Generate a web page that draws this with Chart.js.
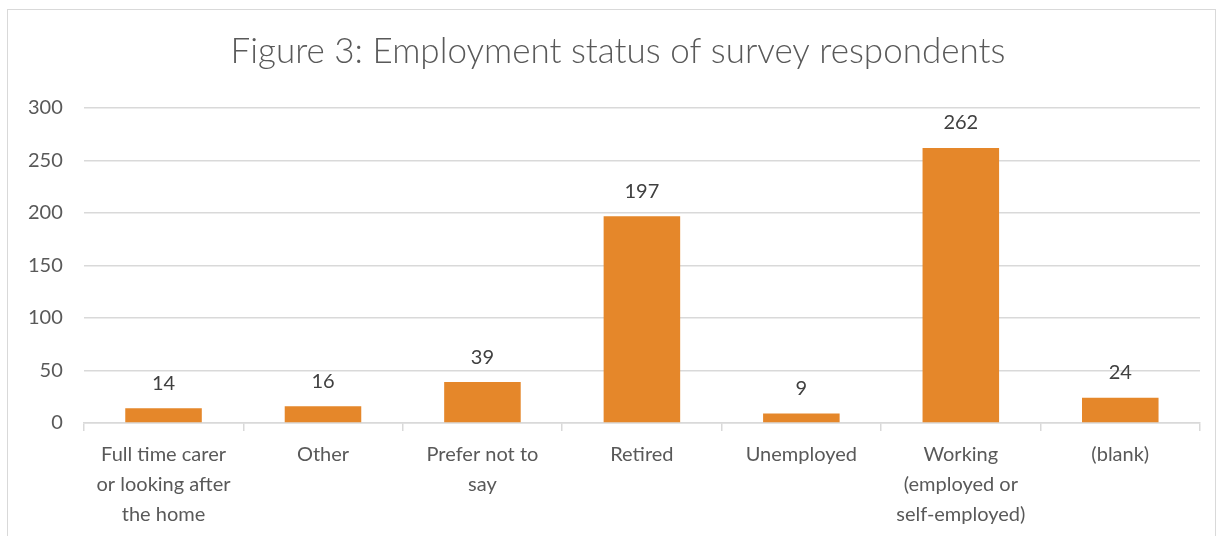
<!DOCTYPE html>
<html>
<head>
<meta charset="utf-8">
<script src="https://cdn.jsdelivr.net/npm/chart.js@4/dist/chart.umd.min.js"></script>
<style>
  html, body { margin: 0; padding: 0; background: #fff; overflow: hidden; }
  #frame {
    position: absolute; left: 7px; top: 9px; width: 1209px; height: 540px;
    border: 1.5px solid #d9d9d9; box-sizing: border-box;
  }
  #wrap { position: absolute; left: 0; top: 0; width: 1218px; height: 539px; }
</style>
</head>
<body>
<div id="frame"></div>
<div id="wrap"><canvas id="employmentChart"></canvas></div>
<script>
// Data
const categories = [
  ['Full time carer', 'or looking after', 'the home'],
  ['Other'],
  ['Prefer not to', 'say'],
  ['Retired'],
  ['Unemployed'],
  ['Working', '(employed or', 'self-employed)'],
  ['(blank)']
];
const respondents = [14, 16, 39, 197, 9, 262, 24];
const yTicks = [0, 50, 100, 150, 200, 250, 300];
const chartTitle = 'Figure 3: Employment status of survey respondents';

const textGrey = '#595959';
const barOrange = '#E5872A';
const gridGrey = '#d9d9d9';
const fontStack = "Lato, 'Open Sans', sans-serif";

Chart.defaults.font.family = fontStack;
Chart.defaults.color = textGrey;

// Title drawn by hand so it sits over the frame centre like the Excel original
const frameTitle = {
  id: 'frameTitle',
  afterDraw(chart) {
    const ctx = chart.ctx;
    ctx.save();
    ctx.font = '300 35px ' + fontStack;
    ctx.fillStyle = textGrey;
    ctx.textAlign = 'center';
    ctx.textBaseline = 'middle';
    ctx.fillText(chartTitle, chart.width / 2 + 9, 52);
    ctx.restore();
  }
};

// Simple value labels above bars (no datalabels plugin available offline)
const valueLabels = {
  id: 'valueLabels',
  afterDatasetsDraw(chart) {
    const ctx = chart.ctx;
    const meta = chart.getDatasetMeta(0);
    ctx.save();
    ctx.font = '20px ' + fontStack;
    ctx.fillStyle = '#404040';
    ctx.textAlign = 'center';
    ctx.textBaseline = 'middle';
    meta.data.forEach((bar, i) => {
      ctx.fillText(String(chart.data.datasets[0].data[i]), bar.x, bar.y - 25);
    });
    ctx.restore();
  }
};

const ctx = document.getElementById('employmentChart').getContext('2d');
new Chart(ctx, {
  type: 'bar',
  data: {
    labels: categories,
    datasets: [{
      label: 'Respondents',
      data: respondents,
      backgroundColor: barOrange,
      borderWidth: 0,
      barPercentage: 0.48,
      categoryPercentage: 1
    }]
  },
  plugins: [valueLabels, frameTitle],
  options: {
    responsive: true,
    maintainAspectRatio: false,
    animation: false,
    layout: {
      padding: { left: 7, right: 18, top: 108, bottom: 0 }
    },
    plugins: {
      legend: { display: false },
      tooltip: { enabled: false },
      title: { display: false }
    },
    scales: {
      x: {
        offset: true,
        grid: {
          offset: true,
          drawOnChartArea: false,
          drawTicks: true,
          tickLength: 8,
          color: gridGrey,
          lineWidth: 1.5
        },
        border: { display: true, color: gridGrey, width: 1.5 },
        ticks: {
          color: textGrey,
          padding: 9,
          maxRotation: 0,
          autoSkip: false,
          font: { size: 20, lineHeight: 1.5 }
        }
      },
      y: {
        min: 0,
        max: 300,
        afterBuildTicks(axis) {
          axis.ticks = yTicks.map(v => ({ value: v }));
        },
        grid: { color: gridGrey, lineWidth: 1.5, drawTicks: false },
        border: { display: false },
        ticks: {
          color: textGrey,
          padding: 21,
          font: { size: 20 }
        }
      }
    }
  }
});
</script>
</body>
</html>
